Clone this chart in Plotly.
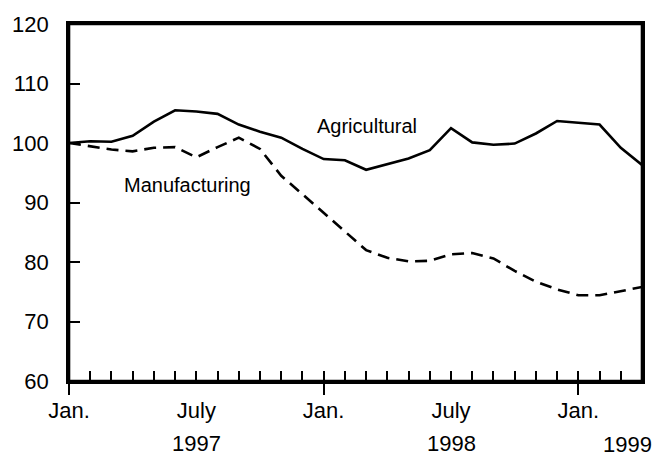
import plotly.graph_objects as go

# months since Jan. 1997 (0 = Jan. 1997 ... 27 = Apr. 1999)
months = list(range(28))

agricultural = [100.0, 100.3, 100.2, 101.2, 103.6, 105.5, 105.3, 104.9, 103.1, 101.9,
                100.9, 99.0, 97.3, 97.1, 95.5, 96.4, 97.4, 98.8, 102.5, 100.1,
                99.7, 99.9, 101.6, 103.7, 103.4, 103.1, 99.2, 96.3]
manufacturing = [100.0, 99.5, 98.9, 98.6, 99.2, 99.3, 97.6, 99.3, 100.9, 99.0,
                 94.5, 91.4, 88.3, 85.1, 82.0, 80.7, 80.1, 80.2, 81.3, 81.5,
                 80.6, 78.5, 76.7, 75.4, 74.4, 74.4, 75.1, 75.8]

month_labels = {0: "Jan.", 6: "July", 12: "Jan.", 18: "July", 24: "Jan."}
year_labels = [(6, "1997", 0), (18, "1998", 0), (26.3, "1999", 1)]
y_ticks = [60, 70, 80, 90, 100, 110, 120]

font = "Liberation Sans, Arial, sans-serif"

fig = go.Figure()
fig.add_trace(go.Scatter(x=months, y=agricultural, mode="lines", name="Agricultural",
                         line=dict(color="black", width=2.6)))
fig.add_trace(go.Scatter(x=months, y=manufacturing, mode="lines", name="Manufacturing",
                         line=dict(color="black", width=2.6, dash="12px,7px")))
# empty trace so the second x axis (long Jan. ticks) gets drawn
fig.add_trace(go.Scatter(x=[0], y=[None], xaxis="x2", showlegend=False, hoverinfo="skip"))

# right margin kept a bit wider: the last ~15px of the window get hidden
fig.update_layout(
    width=662, height=456,
    margin=dict(l=66, r=20, t=23, b=75),
    paper_bgcolor="white", plot_bgcolor="white",
    showlegend=False,
    font=dict(family=font, size=22, color="black"),
    xaxis=dict(range=[0, 27], tickvals=months,
               ticktext=[month_labels.get(m, "") for m in months],
               ticks="inside", ticklen=10, tickwidth=1.5, tickcolor="black",
               ticklabelstandoff=8,
               showline=True, linewidth=2.6, linecolor="black", mirror=True,
               showgrid=False, zeroline=False, fixedrange=True),
    xaxis2=dict(range=[0, 27], overlaying="x", anchor="y", side="bottom",
                tickvals=[0, 12, 24], ticks="outside", ticklen=13, tickwidth=2,
                tickcolor="black", showticklabels=False,
                showline=False, showgrid=False, zeroline=False),
    yaxis=dict(range=[60, 120], tickvals=y_ticks,
               ticks="inside", ticklen=11, tickwidth=1.5, tickcolor="black",
               ticklabelstandoff=13,
               showline=True, linewidth=2.6, linecolor="black", mirror=True,
               showgrid=False, zeroline=False),
)

# frame round the plot area
fig.add_shape(type="rect", xref="paper", yref="paper", x0=0, x1=1, y0=0, y1=1,
              line=dict(color="black", width=2.6), layer="above")

fig.add_annotation(x=11.6, y=102.9, text="Agricultural", showarrow=False,
                   xanchor="left", yanchor="middle", font=dict(size=20))
fig.add_annotation(x=2.5, y=93.0, text="Manufacturing", showarrow=False,
                   xanchor="left", yanchor="middle", font=dict(size=20))

for m, txt, dy in year_labels:
    fig.add_annotation(x=m, xref="x", y=0, yref="paper", text=txt, showarrow=False,
                       xanchor="center", yanchor="middle", yshift=-62 - dy,
                       font=dict(size=22))

# drop the default 8px page margin so the figure fills the window
fig.write_html("out.html", config={"displayModeBar": False},
               post_script="document.body.style.margin='0';document.body.style.overflow='hidden';")
